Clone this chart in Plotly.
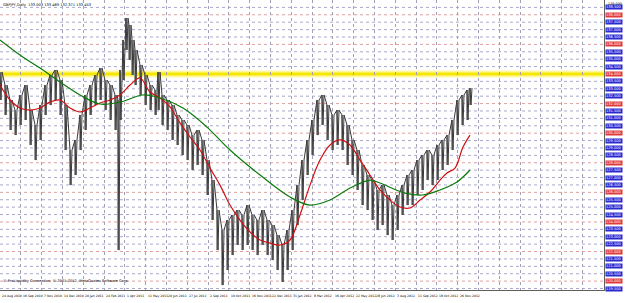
import plotly.graph_objects as go

# ---- data (GBPJPY daily) ----
bar_x = [0,5,10,15,20,25,30,35,40,45,50,55,60,65,70,75,80,85,90,95,100,105,110,115,118,120,123,126,129,132,135,140,145,150,155,158,162,167,172,177,182,187,192,197,202,207,212,217,222,227,232,237,242,247,252,257,262,267,272,277,282,287,292,297,302,307,312,317,322,327,332,337,342,347,352,357,362,367,372,377,382,387,392,397,402,407,412,417,422,427,432,437,442,447,452,457,462,467,470]
bar_high = [134.13,133.25,132.24,131.56,132.58,133.25,131.56,130.55,131.90,133.25,133.93,134.27,133.59,131.90,128.86,129.54,131.23,132.58,133.25,133.93,134.40,133.59,133.25,132.58,132.24,134.27,136.30,137.78,137.31,136.30,135.62,134.61,133.93,133.25,132.92,134.13,132.58,132.24,131.90,131.23,130.89,130.55,129.87,130.21,129.54,128.18,126.83,124.80,123.45,124.13,124.47,124.80,124.47,125.14,124.47,124.13,124.80,124.13,123.79,123.11,122.44,123.45,124.80,126.49,128.18,129.54,130.89,132.24,132.58,131.90,131.23,131.56,131.23,130.55,129.54,128.86,127.85,127.17,126.83,126.16,126.49,125.82,125.14,125.82,126.49,127.17,127.51,128.18,128.52,128.86,128.52,129.20,129.54,129.87,130.89,132.24,132.58,132.92,133.05]
bar_low = [132.24,131.23,130.21,129.87,130.55,130.89,129.20,128.18,129.54,131.23,131.90,132.24,131.23,128.86,126.49,127.17,128.86,130.21,131.23,131.90,132.24,131.56,130.89,130.21,122.10,130.89,133.59,135.62,134.94,133.93,133.25,132.58,131.90,131.56,131.23,131.56,130.55,130.21,129.54,129.20,128.52,128.18,127.51,127.85,127.17,125.82,124.13,122.10,119.73,120.75,121.76,122.44,122.10,122.44,122.10,121.76,122.44,121.76,121.42,120.75,119.94,120.75,122.10,123.79,125.48,127.17,128.52,129.87,130.55,129.54,128.86,129.20,128.86,127.85,127.17,126.16,125.14,124.80,124.13,123.45,123.79,123.11,122.78,123.45,124.47,125.14,125.14,125.82,126.16,126.83,126.49,126.83,127.51,127.85,128.86,129.87,130.55,130.89,131.90]

red_x = [0,10,20,30,40,50,60,70,80,90,100,110,120,130,140,150,160,170,180,190,200,210,220,230,240,250,260,270,280,290,300,310,320,330,340,350,360,370,380,390,400,410,420,430,440,447,455,463,470]
red_ma = [133.25,132.24,131.70,131.56,131.70,132.10,132.24,131.70,131.43,131.70,132.04,132.24,132.58,133.25,133.73,132.78,132.38,131.77,130.69,129.74,128.86,127.64,126.49,125.14,124.13,123.32,122.78,122.57,122.44,122.78,124.47,126.49,128.18,129.20,129.54,129.20,128.18,127.17,126.16,125.48,125.01,124.94,125.48,126.02,126.83,127.31,127.64,129.06,129.87]

green_x = [0,20,40,60,80,100,120,143,160,183,207,230,260,290,310,330,350,370,380,405,423,440,457,470]
green_ma = [136.30,135.28,134.40,133.46,132.58,131.97,132.10,132.58,132.38,131.70,130.41,128.86,127.17,125.68,125.14,125.48,126.29,126.83,126.63,125.95,125.82,126.16,126.70,127.51]

yellow_level = 134.0
grid_levels = [138.5 - 0.5 * i for i in range(39)]
red_levels = [138.0, 136.0, 134.0, 132.0, 130.0, 128.0, 126.0, 124.0, 122.0, 120.0]

date_pos = [round(20.8 * k, 1) for k in range(30)]
date_labels = ["24 Aug 2010", "16 Sep 2010", "7 Nov 2010", "14 Dec 2010", "20 Jan 2011",
               "24 Feb 2011", "1 Apr 2011", "11 May 2011", "20 Jun 2011", "27 Jul 2011",
               "2 Sep 2011", "10 Oct 2011", "16 Nov 2011", "22 Dec 2011", "31 Jan 2012",
               "8 Mar 2012", "16 Apr 2012", "22 May 2012", "28 Jun 2012", "3 Aug 2012",
               "11 Sep 2012", "18 Oct 2012", "26 Nov 2012"]

Y_MIN, Y_MAX = 119.40, 139.0
FONT = "DejaVu Sans"

fig = go.Figure()

# daily bars drawn as a vertical high/low zigzag so the dense bar texture shows
zz_x, zz_y = [], []
for x, h, l in zip(bar_x, bar_high, bar_low):
    zz_x += [x, x + 1, x + 2]
    zz_y += [h, l, h]
fig.add_trace(go.Bar(x=bar_x, y=[h - l for h, l in zip(bar_high, bar_low)], base=bar_low,
                     width=1.2, marker=dict(color="#9a9a9a", line=dict(width=0)),
                     showlegend=False, hoverinfo="skip"))
fig.add_trace(go.Scatter(x=zz_x, y=zz_y, mode="lines", line=dict(color="#3a3a3a", width=1),
                         showlegend=False, hoverinfo="skip"))
fig.add_trace(go.Scatter(x=red_x, y=red_ma, mode="lines", line=dict(color="#d01010", width=1.2),
                         line_shape="spline", showlegend=False))
fig.add_trace(go.Scatter(x=green_x, y=green_ma, mode="lines", line=dict(color="#0a7a0a", width=1.2),
                         line_shape="spline", showlegend=False))

shapes = []
for lv in grid_levels:
    col = "#e0a0a0" if lv in red_levels else "#a8a8cc"
    shapes.append(dict(type="line", xref="paper", yref="y", x0=0, x1=1, y0=lv, y1=lv,
                       line=dict(color=col, width=1, dash="dot"), layer="below"))
shapes.append(dict(type="line", xref="paper", yref="y", x0=0, x1=1, y0=yellow_level, y1=yellow_level,
                   line=dict(color="#fff7a0", width=7), layer="below"))
shapes.append(dict(type="line", xref="paper", yref="y", x0=0, x1=1, y0=yellow_level, y1=yellow_level,
                   line=dict(color="#f5e800", width=3), layer="below"))

annotations = []
for lv in grid_levels:
    red = lv in red_levels
    annotations.append(dict(xref="paper", yref="y", x=1, y=lv, xanchor="left", yanchor="middle",
                            xshift=1, text=f"{lv:.3f}", showarrow=False,
                            font=dict(family=FONT, size=3.6, color="white"),
                            bgcolor="#e03a3a" if red else "#2a2ad0", borderpad=0))
annotations.append(dict(xref="paper", yref="paper", x=1, y=1, xanchor="left", yanchor="top",
                        xshift=2, text=f"{Y_MAX:.3f}", showarrow=False,
                        font=dict(family=FONT, size=3.4, color="black")))
for pos, lab in zip(date_pos, date_labels):
    annotations.append(dict(xref="x", yref="paper", x=pos, y=0, xanchor="left", yanchor="top",
                            xshift=0, yshift=-2, text=lab, showarrow=False,
                            font=dict(family=FONT, size=3.1, color="black")))
annotations.append(dict(xref="paper", yref="paper", x=0, y=1, xanchor="left", yanchor="top",
                        xshift=1, yshift=-1, text="GBPJPY,Daily  133.003 133.469 132.371 133.453",
                        showarrow=False, font=dict(family=FONT, size=3.6, color="black")))
annotations.append(dict(xref="paper", yref="paper", x=0, y=0, xanchor="left", yanchor="bottom",
                        xshift=1, yshift=5,
                        text="© ProLiquidity Connection, © 2001-2012, MetaQuotes Software Corp.",
                        showarrow=False, font=dict(family=FONT, size=3.6, color="black")))

fig.update_layout(
    width=625, height=303,
    margin=dict(l=0, r=21, t=0, b=13),
    paper_bgcolor="white", plot_bgcolor="white",
    bargap=0, shapes=shapes, annotations=annotations, showlegend=False,
    xaxis=dict(range=[0, 604], tickvals=date_pos, showticklabels=False, ticks="",
               showgrid=True, gridcolor="#a0a0b8", griddash="dot", gridwidth=1,
               zeroline=False, showline=True, linecolor="#606060", linewidth=1, mirror=False),
    yaxis=dict(range=[Y_MIN, Y_MAX], side="right", showticklabels=False, ticks="",
               showgrid=False, zeroline=False, showline=True, linecolor="#606060", linewidth=1),
)

fig.write_html("out.html")
